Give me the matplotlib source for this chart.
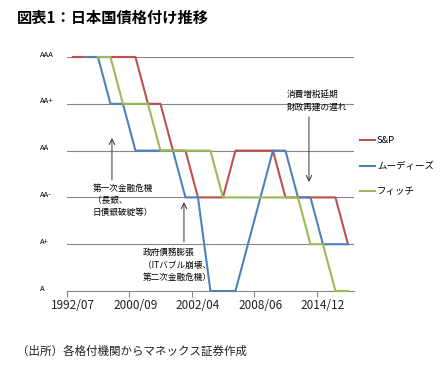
import numpy as np
import matplotlib
matplotlib.use('Agg')
import matplotlib.pyplot as plt

plt.rcParams['font.family'] = ['Noto Sans CJK JP', 'DejaVu Sans']

# rating scale (0 = A ... 5 = AAA)
rating_labels = ['A', 'A+', 'AA-', 'AA', 'AA+', 'AAA']

# category axis: dates of rating changes
dates = ['1992/07', '1993/08', '1996/01', '1998/11', '2000/02', '2000/09',
         '2001/02', '2001/06', '2001/11', '2001/12', '2002/04', '2002/05',
         '2002/11', '2007/04', '2007/10', '2008/06', '2009/05', '2011/01',
         '2011/08', '2012/05', '2014/12', '2015/04', '2015/09']

nan = np.nan
sp = [5, 5, 5, 5, 5, 5, 4, 4, 3, 3, 2, 2, 2, 3, 3, 3, 3, 2, 2, 2, 2, 2, 1]
moodys = [nan, 5, 5, 4, 4, 3, 3, 3, 3, 2, 2, 0, 0, 0, 1, 2, 3, 3, 2, 2, 1, 1, 1]
fitch = [nan, nan, 5, 5, 4, 4, 4, 3, 3, 3, 3, 3, 2, 2, 2, 2, 2, 2, 2, 1, 1, 0, 0]

series_names = ['S&P', 'ムーディーズ', 'フィッチ']
series_colors = ['#C0504D', '#4F81BD', '#9BBB59']

fig = plt.figure(figsize=(4.43, 3.76), dpi=100)
W, H = 443, 376
ax = fig.add_axes([66.7 / W, 1 - 291 / H, 287.5 / W, 234 / H])

x = np.arange(len(dates))
ax.set_xlim(-0.5, len(dates) - 0.5)
ax.set_ylim(0, 5)

for yv in range(1, 6):
    ax.axhline(yv, color='#868686', lw=0.8, zorder=1)

for vals, name, c in zip([sp, moodys, fitch], series_names, series_colors):
    ax.plot(x, vals, color=c, lw=1.5, label=name, clip_on=False, zorder=3)

for s in ['top', 'right', 'left']:
    ax.spines[s].set_visible(False)
ax.spines['bottom'].set_color('#868686')
ax.spines['bottom'].set_linewidth(0.8)

ax.set_yticks([])
for i, lab in enumerate(rating_labels):
    ax.text(-2.65, i + 0.05, lab, fontsize=5.5, ha='left', va='center', clip_on=False)

ax.set_xticks(x[::5])
ax.set_xticklabels([dates[i] for i in x[::5]], fontsize=8.5, color='#222222')
ax.tick_params(axis='x', which='major', length=0, pad=6)
ax.set_xticks(np.arange(-0.5, len(dates) - 1, 5), minor=True)
ax.tick_params(axis='x', which='minor', length=4, color='#868686', width=0.8)

arrow = dict(arrowstyle='->', color='#333333', lw=0.7, shrinkA=0, shrinkB=0)
ax.annotate('', xy=(3.12, 3.27), xytext=(3.12, 2.37), arrowprops=arrow)
ax.annotate('', xy=(8.88, 1.90), xytext=(8.88, 1.05), arrowprops=arrow)
ax.annotate('', xy=(18.88, 2.33), xytext=(18.88, 3.72), arrowprops=arrow)

ax.text(1.6, 2.29, '第一次金融危機\n（長銀、\n日債銀破綻等）', fontsize=6.2,
        ha='left', va='top', linespacing=1.45)
ax.text(5.6, 0.91, '政府債務膨張\n（ITバブル崩壊、\n第二次金融危機）', fontsize=6.2,
        ha='left', va='top', linespacing=1.45)
ax.text(17.1, 4.3, '消費増税延期\n財政再建の遅れ', fontsize=6.2,
        ha='left', va='top', linespacing=1.55)

ax.legend(loc='upper left', bbox_to_anchor=(360 / W, 1 - 136 / H),
          bbox_transform=fig.transFigure, frameon=False, fontsize=6.8,
          handlelength=1.6, handletextpad=0.2, labelspacing=1.75,
          borderpad=0, borderaxespad=0)

fig.text(17 / W, 1 - 18 / H, '図表1：日本国債格付け推移', fontsize=11,
         fontweight='bold', ha='left', va='center')
fig.text(17 / W, 1 - 351 / H, '（出所）各格付機関からマネックス証券作成', fontsize=8.3,
         ha='left', va='center', color='#222222')

fig.savefig('out.png', dpi=100)
